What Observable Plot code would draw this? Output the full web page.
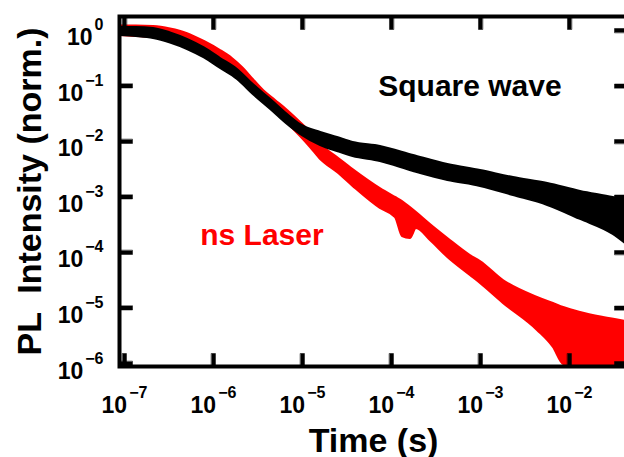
<!DOCTYPE html>
<html><head><meta charset="utf-8">
<script src="https://cdn.jsdelivr.net/npm/d3@7"></script>
<script src="https://cdn.jsdelivr.net/npm/@observablehq/plot@0.6"></script>
<style>html,body{margin:0;padding:0;overflow:hidden;background:#fff}</style>
</head><body><div id="chart"></div>
<script>
// Tick exponents (labels are 10^e)
const xTickExp = [-7, -6, -5, -4, -3, -2];
const yTickExp = [0, -1, -2, -3, -4, -5, -6];

// Square wave (black) band: time (s), upper / lower envelope of the noisy trace
const blackTime  = [9.0e-8, 1.36e-7, 2.12e-7, 3.29e-7, 5.1e-7, 7.9e-7, 1.2e-6, 1.86e-6, 2.8e-6, 4.4e-6, 6.8e-6, 9.5e-6, 1.6e-5, 2.47e-5, 3.7e-5, 7.5e-5, 1.77e-4, 4.3e-4, 1.0e-3, 2.35e-3, 5.7e-3, 1.33e-2, 3.1e-2, 4.4e-2];
const blackUpper = [1.13, 1.13, 1.09, 0.902, 0.69, 0.484, 0.313, 0.198, 0.106, 0.0571, 0.0306, 0.0202, 0.0145, 0.0118, 0.00959, 0.00813, 0.0056, 0.00385, 0.003, 0.00224, 0.00175, 0.00126, 0.00098, 0.000865];
const blackLower = [0.81, 0.78, 0.72, 0.595, 0.455, 0.32, 0.207, 0.131, 0.0703, 0.0377, 0.0202, 0.0134, 0.00847, 0.0066, 0.00537, 0.00436, 0.00288, 0.00198, 0.00155, 0.00106, 0.000703, 0.000394, 0.000211, 0.000139];

// ns Laser (red) band
const redTime  = [9.0e-8, 1.36e-7, 2.12e-7, 3.29e-7, 5.1e-7, 7.9e-7, 1.2e-6, 1.63e-6, 2.17e-6, 2.8e-6, 3.65e-6, 4.98e-6, 6.8e-6, 9.5e-6, 1.23e-5, 1.6e-5, 2.47e-5, 3.7e-5, 7.5e-5, 1.11e-4, 1.33e-4, 1.63e-4, 1.91e-4, 2.74e-4, 4.3e-4, 7.7e-4, 1.0e-3, 1.81e-3, 4.37e-3, 6.6e-3, 8.6e-3, 1.33e-2, 2.41e-2, 4.4e-2];
const redUpper = [1.205, 1.205, 1.18, 1.064, 0.88, 0.634, 0.436, 0.313, 0.207, 0.131, 0.083, 0.0548, 0.0362, 0.022, 0.0145, 0.00883, 0.00515, 0.00313, 0.00142, 0.00098, 0.00083, 0.000647, 0.000526, 0.00032, 0.000179, 8.83e-5, 6.89e-5, 3.13e-5, 1.55e-5, 1.21e-5, 1.02e-5, 8.3e-6, 6.75e-6, 5.7e-6];
const redLower = [0.81, 0.78, 0.75, 0.647, 0.54, 0.385, 0.265, 0.19, 0.126, 0.0796, 0.0504, 0.0333, 0.0211, 0.0123, 0.0078, 0.00474, 0.00276, 0.00155, 0.000621, 0.000427, 0.000194, 0.000179, 0.00027, 0.000164, 8.13e-5, 3.85e-5, 2.76e-5, 1.21e-5, 3.94e-6, 1.94e-6, 9.6e-7, 8.8e-7, 8.8e-7, 8.8e-7];

// Series labels and where they sit (data coordinates)
const seriesNames = ["Square wave", "ns Laser"];
const labelTime = [7.1e-5, 7.1e-7];
const labelIntensity = [0.0647, 1.34e-4];

const xTitle = "Time (s)";
const yTitle = "PL  Intensity (norm.)";

const font = "Liberation Sans, Arial, Helvetica, sans-serif";
const RED = "#ff0000";

const black = blackTime.map((t, i) => ({t, hi: blackUpper[i], lo: blackLower[i]}));
const red = redTime.map((t, i) => ({t, hi: redUpper[i], lo: redLower[i]}));
const fmt = e => "10^" + (e < 0 ? "\u2212" + (-e) : String(e));

const W = 624, H = 457, ML = 119, MR = -3, MT = 16, MB = 91;
const TICK = 13;
// tick drawn as a filled 4px-wide bar of length l, pointing "up" before rotation
const barShape = {draw(context, l) { context.moveTo(-2, 0); context.lineTo(2, 0); context.lineTo(2, -l); context.lineTo(-2, -l); context.closePath(); }};
const tk = {length: TICK, anchor: "start", shape: barShape, fill: "black", stroke: "black", strokeWidth: 0.5};

const plot = Plot.plot({
  width: W, height: H,
  marginLeft: ML, marginRight: MR, marginTop: MT, marginBottom: MB,
  style: {fontFamily: font, background: "white", overflow: "hidden"},
  x: {type: "log", domain: [10 ** -7.056, 10 ** -1.348], axis: null},
  y: {type: "log", domain: [10 ** -6.054, 10 ** 0.252], axis: null},
  marks: [
    Plot.areaY(red, {x: "t", y1: "lo", y2: "hi", curve: "monotone-x", fill: RED, stroke: RED, strokeWidth: 2, strokeLinejoin: "round", clip: true}),
    Plot.areaY(black, {x: "t", y1: "lo", y2: "hi", curve: "monotone-x", fill: "black", stroke: "black", strokeWidth: 2, strokeLinejoin: "round", clip: true}),
    Plot.vectorX(xTickExp, {x: e => 10 ** e, frameAnchor: "bottom", rotate: 0, ...tk}),
    Plot.vectorX(xTickExp, {x: e => 10 ** e, frameAnchor: "top", rotate: 180, ...tk}),
    Plot.vectorY(yTickExp, {y: e => 10 ** e, frameAnchor: "left", rotate: 90, ...tk}),
    Plot.vectorY(yTickExp, {y: e => 10 ** e, frameAnchor: "right", rotate: -90, ...tk}),
    Plot.frame({stroke: "black", strokeWidth: 4}),
    Plot.text(xTickExp, {x: e => 10 ** e, frameAnchor: "bottom", text: fmt, dy: 46, lineAnchor: "bottom", textAnchor: "middle", fontSize: 23, fontWeight: "bold", fill: "black"}),
    Plot.text(yTickExp, {y: e => 10 ** e, frameAnchor: "left", text: fmt, dx: -16, dy: 15, lineAnchor: "bottom", textAnchor: "end", fontSize: 23, fontWeight: "bold", fill: "black"}),
    Plot.text([xTitle], {frameAnchor: "bottom", text: d => d, dy: 85, lineAnchor: "bottom", textAnchor: "middle", fontSize: 34, fontWeight: "bold", fill: "black"}),
    Plot.text([yTitle], {frameAnchor: "left", text: d => d, dx: -79, rotate: -90, lineAnchor: "bottom", textAnchor: "middle", fontSize: 34, fontWeight: "bold", fill: "black"}),
    Plot.text(seriesNames.slice(0, 1), {x: labelTime.slice(0, 1), y: labelIntensity.slice(0, 1), text: d => d, textAnchor: "start", lineAnchor: "bottom", fontSize: 30, fontWeight: "bold", fill: "black"}),
    Plot.text(seriesNames.slice(1), {x: labelTime.slice(1), y: labelIntensity.slice(1), text: d => d, textAnchor: "start", lineAnchor: "bottom", fontSize: 30, fontWeight: "bold", fill: RED})
  ]
});

// Turn "10^e" into 10 with a superscript exponent
for (const el of plot.querySelectorAll("text")) {
  const s = el.textContent;
  const k = s.indexOf("^");
  if (k < 0) continue;
  el.textContent = s.slice(0, k);
  const ts = document.createElementNS("http://www.w3.org/2000/svg", "tspan");
  ts.setAttribute("dx", "2");
  ts.setAttribute("dy", "-15");
  ts.setAttribute("font-size", "16");
  ts.textContent = s.slice(k + 1);
  el.appendChild(ts);
}
document.getElementById("chart").appendChild(plot);
</script>
</body></html>
